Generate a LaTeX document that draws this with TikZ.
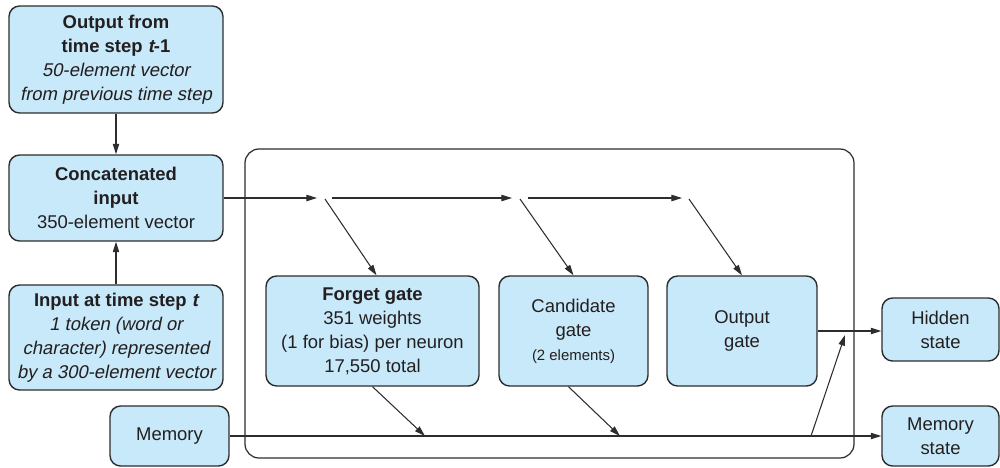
\documentclass[tikz,border=0pt]{standalone}
\usepackage{fontspec}
\setmainfont{Liberation Sans}[
	BoldFont={Liberation Sans Bold},
	ItalicFont={Liberation Sans},
	BoldItalicFont={Liberation Sans Bold},
	ItalicFeatures={FakeSlant=0.2},
	BoldItalicFeatures={FakeSlant=0.2}]
\usepackage{xcolor}
\usetikzlibrary{
	arrows.meta,
	calc,
	positioning
}
\definecolor{GateBlue}{RGB}{200,233,249}
\definecolor{EdgeGray}{RGB}{45,45,45}
\definecolor{InkGray}{RGB}{35,31,32}

\tikzset{
	box/.style={draw=EdgeGray, line width=0.8pt, fill=GateBlue, rounded corners=6pt, text=InkGray,
		align=center, inner sep=2pt, font=\fontsize{10.5}{13.6}\selectfont},
	flow/.style={-{Triangle[length=6pt,width=3.6pt]}, line width=0.6pt, draw=EdgeGray}
}

\begin{document}
\begin{tikzpicture}[x=0.02cm, y=-0.02cm]
		\useasboundingbox (0,0) rectangle (1000,467);
		
		% LSTM cell
		\draw[EdgeGray, line width=0.7pt, rounded corners=8pt] (245,149) rectangle (854,458);
		
		% inputs
		\node[box, minimum width=4.28cm, minimum height=2.14cm] (prev) at (116,59.5)
			{\textbf{Output from}\\\textbf{time step \textit{t}-1}\\\textit{50-element vector}\\\textit{from previous time step}};
		\node[box, minimum width=4.28cm, minimum height=1.72cm] (concat) at (116,198)
			{\textbf{Concatenated}\\\textbf{input}\\350-element vector};
		\node[box, minimum width=4.28cm, minimum height=2.1cm] (inp) at (116,337.5)
			{\textbf{Input at time step \textit{t}}\\\textit{1 token (word or}\\\textit{character) represented}\\\textit{by a 300-element vector}};
		\node[box, minimum width=2.38cm, minimum height=1.2cm] (mem) at (169.5,436) {Memory};
		
		% gates
		\node[box, minimum width=4.26cm, minimum height=2.2cm] (forget) at (372.5,331)
			{\textbf{Forget gate}\\351 weights\\(1 for bias) per neuron\\17,550 total};
		\node[box, minimum width=2.98cm, minimum height=2.2cm] (cand) at (573.5,331)
			{Candidate\\gate\\{\fontsize{8.5}{11}\selectfont (2 elements)}};
		\node[box, minimum width=3cm, minimum height=2.2cm] (outg) at (742,331) {Output\\gate};
		
		% outputs
		\node[box, minimum width=2.34cm, minimum height=1.26cm] (hidden) at (940.5,329.5) {Hidden\\state};
		\node[box, minimum width=2.34cm, minimum height=1.2cm] (memst) at (940.5,436) {Memory\\state};
		
		% split points
		\coordinate (t1) at (317,198);
		\coordinate (d1) at (325,199);
		\coordinate (l1) at (332,198);
		\coordinate (t2) at (512,198);
		\coordinate (d2) at (520,199);
		\coordinate (l2) at (528,198);
		\coordinate (t3) at (682,198);
		\coordinate (d3) at (689,199);
		\coordinate (f1) at (425,436);
		\coordinate (c1) at (620,436);
		\coordinate (m1) at (811,436);
		\coordinate (h1) at (845,335);
		
		\draw[flow] (prev) -- (concat);
		\draw[flow] (inp) -- (concat);
		\draw[flow] (concat.east) -- (t1);
		\draw[flow] (d1) -- ($(forget.north)+(4,0)$);
		\draw[flow] (l1) -- (t2);
		\draw[flow] (d2) -- (cand.north);
		\draw[flow] (l2) -- (t3);
		\draw[flow] (d3) -- (outg.north);
		
		% memory line
		\draw[flow] (mem) -- (memst);
		\draw[flow] (forget.south) -- (f1);
		\draw[flow] ($(cand.south)+(-5,0)$) -- (c1);
		\draw[flow] (outg.east) -- (outg.east -| hidden.west);
		\draw[flow] (m1) -- (h1);
		
	\end{tikzpicture}
\end{document}
